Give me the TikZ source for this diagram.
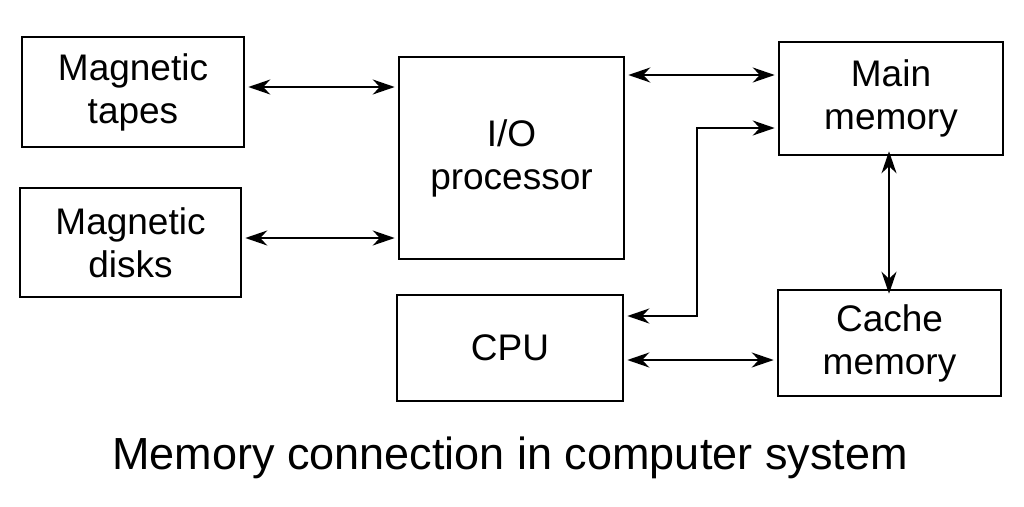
\documentclass[tikz,border=0pt]{standalone}
\usepackage{fontspec}
\setmainfont{Liberation Sans}
\usetikzlibrary{arrows.meta}
\begin{document}
\begin{tikzpicture}[x=1pt,y=-1pt,
  box/.style={draw,line width=2.6pt,align=center,font=\fontsize{37}{43}\selectfont,inner sep=0},
  con/.style={line width=2.4pt,{Stealth[length=22pt,width=15pt]}-{Stealth[length=22pt,width=15pt]}}]
\useasboundingbox (0,0) rectangle (1024,506);
\node[box,minimum width=222pt,minimum height=110pt] (tapes) at (133,92) {Magnetic\\tapes};
\node[box,minimum width=221pt,minimum height=109pt] (disks) at (130.5,242.5) {Magnetic\\disks};
\node[box,minimum width=225pt,minimum height=202pt] (io) at (511.5,158) {I/O\\processor};
\node[box,minimum width=224pt,minimum height=113pt] (main) at (891,98.5) {Main\\memory};
\node[box,minimum width=226pt,minimum height=106pt] (cpu) at (510,348) {CPU};
\node[box,minimum width=223pt,minimum height=106pt] (cache) at (889.5,343) {Cache\\memory};
\node[font=\fontsize{45}{50}\selectfont] (cap) at (510,458) {Memory connection in computer system};
\draw[con] (tapes.east|-0,87) ++(3,0) -- ([xshift=-3pt]io.west|-0,87);
\draw[con] (disks.east|-0,238) ++(3,0) -- ([xshift=-3pt]io.west|-0,238);
\draw[con] ([xshift=3pt]io.east|-0,75) -- ([xshift=-3pt]main.west|-0,75);
\draw[con] ([yshift=5pt]main.south-|889,0) -- ([yshift=-5pt]cache.north-|889,0);
\draw[con] ([xshift=3pt]cpu.east|-0,360) -- ([xshift=-3pt]cache.west|-0,360);
\coordinate (e1) at (697,128);
\coordinate (e2) at (697,316);
\draw[con] ([xshift=-3pt]main.west|-0,128) -- (e1) -- (e2) -- ([xshift=3pt]cpu.east|-0,316);
\end{tikzpicture}
\end{document}
